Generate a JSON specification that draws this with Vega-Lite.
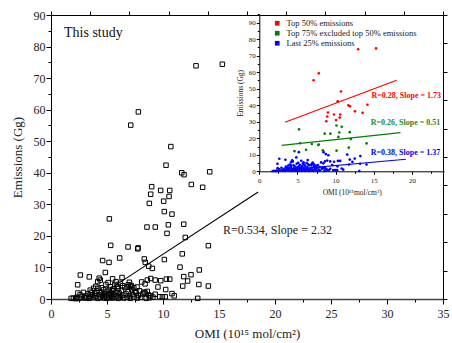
{
  "$schema": "https://vega.github.io/schema/vega-lite/v6.json",
  "autosize": {"type": "none"},
  "padding": {"left": 51, "top": 15, "right": 9, "bottom": 44},
  "width": 392,
  "height": 284,
  "config": {
    "font": "Liberation Serif",
    "view": {"stroke": "#000", "strokeWidth": 1},
    "axis": {"grid": false, "labelFont": "Liberation Serif", "titleFont": "Liberation Serif", "labelColor": "#222", "titleColor": "#222", "tickColor": "#000", "domainColor": "#000", "titleFontWeight": "normal"}
  },
  "datasets": {
    "pts": [
      {"omi": 7.12, "emis": 55.1, "g": "Top 50% emissions"},
      {"omi": 7.8, "emis": 59.3, "g": "Top 50% emissions"},
      {"omi": 12.95, "emis": 73.9, "g": "Top 50% emissions"},
      {"omi": 15.3, "emis": 74.4, "g": "Top 50% emissions"},
      {"omi": 10.7, "emis": 48.3, "g": "Top 50% emissions"},
      {"omi": 10.27, "emis": 42.4, "g": "Top 50% emissions"},
      {"omi": 11.67, "emis": 40.0, "g": "Top 50% emissions"},
      {"omi": 11.88, "emis": 39.4, "g": "Top 50% emissions"},
      {"omi": 14.17, "emis": 40.3, "g": "Top 50% emissions"},
      {"omi": 12.53, "emis": 36.3, "g": "Top 50% emissions"},
      {"omi": 13.54, "emis": 35.4, "g": "Top 50% emissions"},
      {"omi": 8.99, "emis": 35.6, "g": "Top 50% emissions"},
      {"omi": 9.79, "emis": 34.4, "g": "Top 50% emissions"},
      {"omi": 10.6, "emis": 34.4, "g": "Top 50% emissions"},
      {"omi": 8.9, "emis": 33.2, "g": "Top 50% emissions"},
      {"omi": 10.54, "emis": 32.5, "g": "Top 50% emissions"},
      {"omi": 8.78, "emis": 30.3, "g": "Top 50% emissions"},
      {"omi": 10.06, "emis": 31.0, "g": "Top 50% emissions"},
      {"omi": 10.12, "emis": 27.7, "g": "Top 75% excluded top 50% emissions"},
      {"omi": 10.8, "emis": 26.9, "g": "Top 75% excluded top 50% emissions"},
      {"omi": 5.21, "emis": 25.4, "g": "Top 75% excluded top 50% emissions"},
      {"omi": 8.57, "emis": 22.8, "g": "Top 75% excluded top 50% emissions"},
      {"omi": 9.31, "emis": 22.8, "g": "Top 75% excluded top 50% emissions"},
      {"omi": 10.48, "emis": 23.5, "g": "Top 75% excluded top 50% emissions"},
      {"omi": 11.85, "emis": 23.7, "g": "Top 75% excluded top 50% emissions"},
      {"omi": 10.36, "emis": 20.8, "g": "Top 75% excluded top 50% emissions"},
      {"omi": 11.99, "emis": 19.5, "g": "Top 75% excluded top 50% emissions"},
      {"omi": 5.33, "emis": 17.0, "g": "Top 75% excluded top 50% emissions"},
      {"omi": 6.88, "emis": 16.5, "g": "Top 75% excluded top 50% emissions"},
      {"omi": 7.74, "emis": 15.9, "g": "Top 75% excluded top 50% emissions"},
      {"omi": 7.78, "emis": 16.2, "g": "Top 75% excluded top 50% emissions"},
      {"omi": 14.05, "emis": 16.9, "g": "Top 75% excluded top 50% emissions"},
      {"omi": 11.72, "emis": 14.3, "g": "Top 75% excluded top 50% emissions"},
      {"omi": 6.13, "emis": 13.0, "g": "Top 75% excluded top 50% emissions"},
      {"omi": 8.33, "emis": 12.7, "g": "Top 75% excluded top 50% emissions"},
      {"omi": 4.61, "emis": 12.2, "g": "Top 75% excluded top 50% emissions"},
      {"omi": 10.12, "emis": 12.5, "g": "Top 75% excluded top 50% emissions"},
      {"omi": 5.18, "emis": 11.6, "g": "Last 25% emissions"},
      {"omi": 8.42, "emis": 11.6, "g": "Last 25% emissions"},
      {"omi": 8.72, "emis": 10.4, "g": "Last 25% emissions"},
      {"omi": 9.05, "emis": 9.7, "g": "Last 25% emissions"},
      {"omi": 11.52, "emis": 10.1, "g": "Last 25% emissions"},
      {"omi": 13.24, "emis": 9.2, "g": "Last 25% emissions"},
      {"omi": 2.62, "emis": 7.6, "g": "Last 25% emissions"},
      {"omi": 3.42, "emis": 7.0, "g": "Last 25% emissions"},
      {"omi": 4.85, "emis": 8.4, "g": "Last 25% emissions"},
      {"omi": 6.34, "emis": 6.8, "g": "Last 25% emissions"},
      {"omi": 4.3, "emis": 6.6, "g": "Last 25% emissions"},
      {"omi": 4.4, "emis": 6.0, "g": "Last 25% emissions"},
      {"omi": 5.5, "emis": 6.4, "g": "Last 25% emissions"},
      {"omi": 11.85, "emis": 7.1, "g": "Last 25% emissions"},
      {"omi": 12.5, "emis": 7.7, "g": "Last 25% emissions"},
      {"omi": 12.2, "emis": 5.7, "g": "Last 25% emissions"},
      {"omi": 2.38, "emis": 4.5, "g": "Last 25% emissions"},
      {"omi": 4.17, "emis": 5.5, "g": "Last 25% emissions"},
      {"omi": 11.76, "emis": 4.1, "g": "Last 25% emissions"},
      {"omi": 13.2, "emis": 4.6, "g": "Last 25% emissions"},
      {"omi": 14.05, "emis": 4.1, "g": "Last 25% emissions"},
      {"omi": 8.1, "emis": 5.4, "g": "Last 25% emissions"},
      {"omi": 8.4, "emis": 4.8, "g": "Last 25% emissions"},
      {"omi": 8.6, "emis": 6.0, "g": "Last 25% emissions"},
      {"omi": 8.9, "emis": 6.5, "g": "Last 25% emissions"},
      {"omi": 9.3, "emis": 6.0, "g": "Last 25% emissions"},
      {"omi": 9.8, "emis": 5.8, "g": "Last 25% emissions"},
      {"omi": 10.3, "emis": 6.3, "g": "Last 25% emissions"},
      {"omi": 10.6, "emis": 6.3, "g": "Last 25% emissions"},
      {"omi": 9.55, "emis": 3.8, "g": "Last 25% emissions"},
      {"omi": 10.24, "emis": 3.0, "g": "Last 25% emissions"},
      {"omi": 7.68, "emis": 3.8, "g": "Last 25% emissions"},
      {"omi": 7.1, "emis": 4.0, "g": "Last 25% emissions"},
      {"omi": 7.15, "emis": 4.3, "g": "Last 25% emissions"},
      {"omi": 7.5, "emis": 2.4, "g": "Last 25% emissions"},
      {"omi": 10.8, "emis": 1.7, "g": "Last 25% emissions"},
      {"omi": 11.0, "emis": 1.0, "g": "Last 25% emissions"},
      {"omi": 13.1, "emis": 0.2, "g": "Last 25% emissions"},
      {"omi": 9.7, "emis": 0.7, "g": "Last 25% emissions"},
      {"omi": 10.2, "emis": 0.7, "g": "Last 25% emissions"},
      {"omi": 9.95, "emis": 0.7, "g": "Last 25% emissions"},
      {"omi": 6.9, "emis": 4.5, "g": "Last 25% emissions"},
      {"omi": 5.9, "emis": 4.0, "g": "Last 25% emissions"},
      {"omi": 5.6, "emis": 3.2, "g": "Last 25% emissions"},
      {"omi": 1.8, "emis": 0.2, "g": "Last 25% emissions"},
      {"omi": 2.0, "emis": 0.3, "g": "Last 25% emissions"},
      {"omi": 2.2, "emis": 0.1, "g": "Last 25% emissions"},
      {"omi": 2.3, "emis": 0.5, "g": "Last 25% emissions"},
      {"omi": 2.5, "emis": 0.2, "g": "Last 25% emissions"},
      {"omi": 2.6, "emis": 1.3, "g": "Last 25% emissions"},
      {"omi": 2.7, "emis": 0.6, "g": "Last 25% emissions"},
      {"omi": 2.9, "emis": 2.1, "g": "Last 25% emissions"},
      {"omi": 3.0, "emis": 0.3, "g": "Last 25% emissions"},
      {"omi": 3.1, "emis": 1.0, "g": "Last 25% emissions"},
      {"omi": 3.2, "emis": 0.5, "g": "Last 25% emissions"},
      {"omi": 3.3, "emis": 1.6, "g": "Last 25% emissions"},
      {"omi": 3.4, "emis": 0.2, "g": "Last 25% emissions"},
      {"omi": 3.5, "emis": 0.8, "g": "Last 25% emissions"},
      {"omi": 3.6, "emis": 2.1, "g": "Last 25% emissions"},
      {"omi": 3.7, "emis": 1.2, "g": "Last 25% emissions"},
      {"omi": 3.8, "emis": 3.4, "g": "Last 25% emissions"},
      {"omi": 3.8, "emis": 0.4, "g": "Last 25% emissions"},
      {"omi": 3.9, "emis": 1.8, "g": "Last 25% emissions"},
      {"omi": 4.0, "emis": 0.9, "g": "Last 25% emissions"},
      {"omi": 4.1, "emis": 2.5, "g": "Last 25% emissions"},
      {"omi": 4.2, "emis": 3.4, "g": "Last 25% emissions"},
      {"omi": 4.2, "emis": 0.2, "g": "Last 25% emissions"},
      {"omi": 4.3, "emis": 1.4, "g": "Last 25% emissions"},
      {"omi": 4.4, "emis": 0.6, "g": "Last 25% emissions"},
      {"omi": 4.5, "emis": 2.0, "g": "Last 25% emissions"},
      {"omi": 4.6, "emis": 1.1, "g": "Last 25% emissions"},
      {"omi": 4.7, "emis": 2.9, "g": "Last 25% emissions"},
      {"omi": 4.7, "emis": 0.3, "g": "Last 25% emissions"},
      {"omi": 4.8, "emis": 1.7, "g": "Last 25% emissions"},
      {"omi": 4.9, "emis": 0.8, "g": "Last 25% emissions"},
      {"omi": 5.0, "emis": 2.4, "g": "Last 25% emissions"},
      {"omi": 5.0, "emis": 0.2, "g": "Last 25% emissions"},
      {"omi": 5.1, "emis": 1.3, "g": "Last 25% emissions"},
      {"omi": 5.2, "emis": 3.0, "g": "Last 25% emissions"},
      {"omi": 5.2, "emis": 0.5, "g": "Last 25% emissions"},
      {"omi": 5.3, "emis": 3.9, "g": "Last 25% emissions"},
      {"omi": 5.3, "emis": 1.9, "g": "Last 25% emissions"},
      {"omi": 5.4, "emis": 0.9, "g": "Last 25% emissions"},
      {"omi": 5.5, "emis": 2.6, "g": "Last 25% emissions"},
      {"omi": 5.5, "emis": 0.3, "g": "Last 25% emissions"},
      {"omi": 5.6, "emis": 1.5, "g": "Last 25% emissions"},
      {"omi": 5.7, "emis": 0.6, "g": "Last 25% emissions"},
      {"omi": 5.8, "emis": 2.2, "g": "Last 25% emissions"},
      {"omi": 5.9, "emis": 1.0, "g": "Last 25% emissions"},
      {"omi": 6.0, "emis": 3.3, "g": "Last 25% emissions"},
      {"omi": 6.0, "emis": 0.2, "g": "Last 25% emissions"},
      {"omi": 6.1, "emis": 1.8, "g": "Last 25% emissions"},
      {"omi": 6.2, "emis": 0.7, "g": "Last 25% emissions"},
      {"omi": 6.3, "emis": 2.7, "g": "Last 25% emissions"},
      {"omi": 6.4, "emis": 1.2, "g": "Last 25% emissions"},
      {"omi": 6.5, "emis": 0.3, "g": "Last 25% emissions"},
      {"omi": 6.6, "emis": 3.6, "g": "Last 25% emissions"},
      {"omi": 6.7, "emis": 1.6, "g": "Last 25% emissions"},
      {"omi": 6.8, "emis": 0.5, "g": "Last 25% emissions"},
      {"omi": 6.9, "emis": 2.3, "g": "Last 25% emissions"},
      {"omi": 7.0, "emis": 1.0, "g": "Last 25% emissions"},
      {"omi": 7.1, "emis": 0.2, "g": "Last 25% emissions"},
      {"omi": 7.2, "emis": 2.9, "g": "Last 25% emissions"},
      {"omi": 7.3, "emis": 1.4, "g": "Last 25% emissions"},
      {"omi": 7.4, "emis": 0.6, "g": "Last 25% emissions"},
      {"omi": 7.6, "emis": 2.0, "g": "Last 25% emissions"},
      {"omi": 7.7, "emis": 0.3, "g": "Last 25% emissions"},
      {"omi": 7.8, "emis": 1.1, "g": "Last 25% emissions"},
      {"omi": 7.9, "emis": 2.6, "g": "Last 25% emissions"},
      {"omi": 8.0, "emis": 0.5, "g": "Last 25% emissions"},
      {"omi": 8.2, "emis": 1.6, "g": "Last 25% emissions"},
      {"omi": 8.3, "emis": 2.2, "g": "Last 25% emissions"},
      {"omi": 8.4, "emis": 1.9, "g": "Last 25% emissions"},
      {"omi": 8.5, "emis": 0.2, "g": "Last 25% emissions"},
      {"omi": 8.6, "emis": 2.4, "g": "Last 25% emissions"},
      {"omi": 8.7, "emis": 1.3, "g": "Last 25% emissions"},
      {"omi": 8.8, "emis": 0.4, "g": "Last 25% emissions"},
      {"omi": 8.9, "emis": 1.0, "g": "Last 25% emissions"},
      {"omi": 9.1, "emis": 0.6, "g": "Last 25% emissions"},
      {"omi": 9.3, "emis": 1.5, "g": "Last 25% emissions"},
      {"omi": 6.4, "emis": 4.2, "g": "Last 25% emissions"},
      {"omi": 6.8, "emis": 3.9, "g": "Last 25% emissions"},
      {"omi": 7.4, "emis": 3.5, "g": "Last 25% emissions"},
      {"omi": 4.5, "emis": 3.6, "g": "Last 25% emissions"},
      {"omi": 5.7, "emis": 4.6, "g": "Last 25% emissions"},
      {"omi": 4.0, "emis": 4.0, "g": "Last 25% emissions"},
      {"omi": 6.2, "emis": 5.0, "g": "Last 25% emissions"},
      {"omi": 7.0, "emis": 5.3, "g": "Last 25% emissions"},
      {"omi": 3.5, "emis": 2.8, "g": "Last 25% emissions"},
      {"omi": 2.4, "emis": 1.9, "g": "Last 25% emissions"},
      {"omi": 4.9, "emis": 4.6, "g": "Last 25% emissions"},
      {"omi": 5.1, "emis": 5.2, "g": "Last 25% emissions"},
      {"omi": 5.8, "emis": 5.5, "g": "Last 25% emissions"}
    ],
    "fits": [
      {"omi": 5.3, "emis": 3.3, "s": "all"},
      {"omi": 18.5, "emis": 33.9, "s": "all"},
      {"omi": 3.37, "emis": 29.7, "s": "Top 50% emissions"},
      {"omi": 18.0, "emis": 55.1, "s": "Top 50% emissions"},
      {"omi": 2.93, "emis": 15.7, "s": "Top 75% excluded top 50% emissions"},
      {"omi": 18.5, "emis": 23.4, "s": "Top 75% excluded top 50% emissions"},
      {"omi": 1.5, "emis": 0.0, "s": "Last 25% emissions"},
      {"omi": 19.2, "emis": 7.3, "s": "Last 25% emissions"}
    ],
    "one": [{"k": 1}]
  },
  "layer": [
    {
      "data": {"name": "pts"},
      "mark": {"type": "point", "shape": "square", "filled": false, "color": "#000", "size": 20, "strokeWidth": 1, "opacity": 1},
      "encoding": {
        "x": {"field": "omi", "type": "quantitative", "scale": {"domain": [0, 35], "nice": false, "zero": false},
          "axis": {"orient": "bottom", "title": "OMI (10¹⁵ mol/cm²)", "values": [0,2.5,5,7.5,10,12.5,15,17.5,20,22.5,25,27.5,30,32.5,35],
            "labelExpr": "datum.value % 5 === 0 ? datum.label : ''", "tickSize": {"condition": {"test": "datum.value % 5 === 0", "value": 5}, "value": 3},
            "labelFontSize": 12, "titleFontSize": 13, "labelPadding": 4, "titlePadding": 8, "domainWidth": 1.5, "domainColor": "#444", "labelFlush": false}},
        "y": {"field": "emis", "type": "quantitative", "scale": {"domain": [0, 90], "nice": false, "zero": false},
          "axis": {"orient": "left", "title": "Emissions (Gg)", "values": [0,5,10,15,20,25,30,35,40,45,50,55,60,65,70,75,80,85,90],
            "labelExpr": "datum.value % 10 === 0 ? datum.label : ''", "tickSize": {"condition": {"test": "datum.value % 10 === 0", "value": 5}, "value": 3},
            "labelFontSize": 12, "titleFontSize": 13, "labelPadding": 1, "titlePadding": 9, "labelFlush": false}}
      }
    },
    {
      "data": {"name": "fits"},
      "transform": [{"filter": "datum.s === 'all'"}],
      "mark": {"type": "line", "color": "#000", "strokeWidth": 1.1},
      "encoding": {
        "x": {"field": "omi", "type": "quantitative", "scale": {"domain": [0, 35], "nice": false, "zero": false},
          "axis": {"orient": "top", "values": [0,3.5,7,10.5,14,17.5,21,24.5,28,31.5,35], "labels": false, "domain": false, "tickSize": 4, "title": null}},
        "y": {"field": "emis", "type": "quantitative", "scale": {"domain": [0, 90], "nice": false, "zero": false},
          "axis": {"orient": "right", "values": [0,9,18,27,36,45,54,63,72,81,90], "labels": false, "domain": false, "tickSize": 4, "title": null}}
      }
    },
    {
      "data": {"name": "one"},
      "mark": {"type": "text", "text": "R=0.534, Slope = 2.32", "align": "left", "baseline": "middle", "fontSize": 12, "color": "#222"},
      "encoding": {"x": {"datum": 15.36, "type": "quantitative", "scale": {"domain": [0, 35], "nice": false, "zero": false}, "axis": null},
                   "y": {"datum": 21.9, "type": "quantitative", "scale": {"domain": [0, 90], "nice": false, "zero": false}, "axis": null}}
    },
    {
      "data": {"name": "one"},
      "mark": {"type": "text", "text": "This study", "align": "left", "baseline": "alphabetic", "fontSize": 14, "color": "#111"},
      "encoding": {"x": {"datum": 1.16, "type": "quantitative", "scale": {"domain": [0, 35], "nice": false, "zero": false}, "axis": null},
                   "y": {"datum": 83.0, "type": "quantitative", "scale": {"domain": [0, 90], "nice": false, "zero": false}, "axis": null}}
    },
    {
      "data": {"name": "pts"},
      "mark": {"type": "circle", "size": 7, "opacity": 1},
      "encoding": {
        "x": {"field": "omi", "type": "quantitative", "scale": {"domain": [0, 24.2], "range": [208.3, 393], "nice": false, "zero": false},
          "axis": {"orient": "bottom", "offset": -127.7, "title": "OMI (10¹⁵mol/cm²)", "values": [0,2.5,5,7.5,10,12.5,15,17.5,20,22.5],
            "labelExpr": "datum.value % 5 === 0 ? datum.label : ''", "tickSize": {"condition": {"test": "datum.value % 5 === 0", "value": 3}, "value": 2},
            "labelFontSize": 7, "titleFontSize": 7.5, "labelPadding": 2, "titlePadding": 5, "labelFlush": false}},
        "y": {"field": "emis", "type": "quantitative", "scale": {"domain": [0, 95], "range": [156.3, -0.6], "nice": false, "zero": false},
          "axis": {"orient": "left", "offset": -208.3, "title": "Emissions (Gg)", "values": [0,5,10,15,20,25,30,35,40,45,50,55,60,65,70,75,80,85,90,95],
            "labelExpr": "datum.value % 10 === 0 ? datum.label : ''", "tickSize": {"condition": {"test": "datum.value % 10 === 0", "value": 3}, "value": 2},
            "labelFontSize": 7, "titleFontSize": 7.5, "labelPadding": 1, "titlePadding": 4, "labelFlush": false}},
        "color": {"field": "g", "type": "nominal",
          "scale": {"domain": ["Top 50% emissions", "Top 75% excluded top 50% emissions", "Last 25% emissions"], "range": ["#ff0000", "#008000", "#0000ff"]},
          "legend": {"orient": "none", "legendX": 222, "legendY": 4, "title": null, "symbolType": "square", "symbolSize": 22, "symbolStrokeWidth": 0,
            "labelFont": "Liberation Serif", "labelFontSize": 8.5, "labelColor": "#222", "rowPadding": 1, "padding": 0, "labelOffset": 5}}
      }
    },
    {
      "data": {"name": "fits"},
      "transform": [{"filter": "datum.s !== 'all'"}],
      "mark": {"type": "line", "strokeWidth": 1.2},
      "encoding": {
        "x": {"field": "omi", "type": "quantitative", "scale": {"domain": [0, 24.2], "range": [208.3, 393], "nice": false, "zero": false}, "axis": null},
        "y": {"field": "emis", "type": "quantitative", "scale": {"domain": [0, 95], "range": [156.3, -0.6], "nice": false, "zero": false}, "axis": null},
        "color": {"field": "s", "type": "nominal", "legend": null}
      }
    },
    {
      "data": {"name": "one"},
      "mark": {"type": "text", "text": "R=0.28, Slope = 1.73", "align": "left", "baseline": "middle", "fontSize": 8, "fontWeight": "bold", "color": "#ff0000"},
      "encoding": {"x": {"datum": 14.7, "type": "quantitative", "scale": {"domain": [0, 24.2], "range": [208.3, 393], "nice": false, "zero": false}, "axis": null},
                   "y": {"datum": 45.6, "type": "quantitative", "scale": {"domain": [0, 95], "range": [156.3, -0.6], "nice": false, "zero": false}, "axis": null}}
    },
    {
      "data": {"name": "one"},
      "mark": {"type": "text", "text": "R=0.26, Slope = 0.51", "align": "left", "baseline": "middle", "fontSize": 8, "fontWeight": "bold", "color": "#1f8a1f"},
      "encoding": {"x": {"datum": 14.6, "type": "quantitative", "scale": {"domain": [0, 24.2], "range": [208.3, 393], "nice": false, "zero": false}, "axis": null},
                   "y": {"datum": 29.1, "type": "quantitative", "scale": {"domain": [0, 95], "range": [156.3, -0.6], "nice": false, "zero": false}, "axis": null}}
    },
    {
      "data": {"name": "one"},
      "mark": {"type": "text", "text": "R=0.38, Slope = 1.37", "align": "left", "baseline": "middle", "fontSize": 8, "fontWeight": "bold", "color": "#0000ff"},
      "encoding": {"x": {"datum": 14.6, "type": "quantitative", "scale": {"domain": [0, 24.2], "range": [208.3, 393], "nice": false, "zero": false}, "axis": null},
                   "y": {"datum": 11.3, "type": "quantitative", "scale": {"domain": [0, 95], "range": [156.3, -0.6], "nice": false, "zero": false}, "axis": null}}
    }
  ],
  "resolve": {"scale": {"x": "independent", "y": "independent"}, "axis": {"x": "independent", "y": "independent"}}
}
